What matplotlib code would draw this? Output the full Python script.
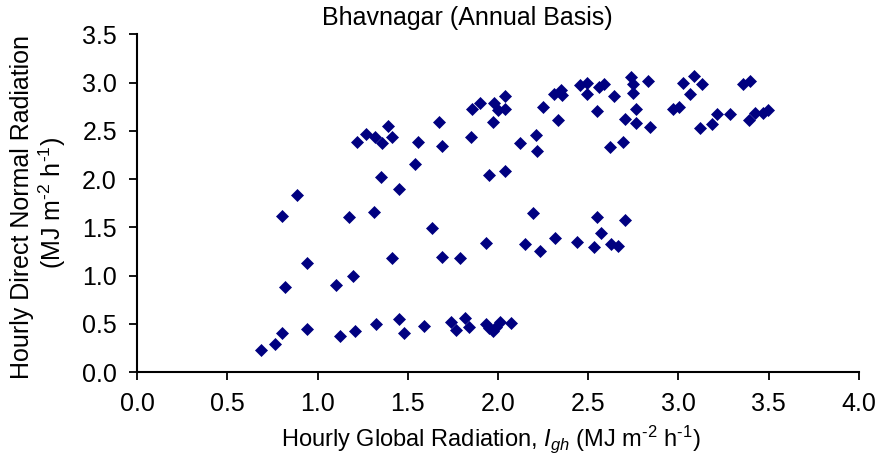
import matplotlib.pyplot as plt

plt.rcParams['font.family'] = ['Liberation Sans', 'DejaVu Sans']
plt.rcParams['mathtext.fontset'] = 'custom'
plt.rcParams['mathtext.rm'] = 'Liberation Sans'
plt.rcParams['mathtext.it'] = 'Liberation Sans:italic'

# hourly global radiation (x) and direct normal radiation (y), MJ m-2 h-1
igh = [1.221, 1.266, 1.317, 1.358, 1.391, 1.413, 1.557, 1.671, 1.692, 1.852,
       1.856, 1.898, 1.976, 2.000, 2.037, 2.037, 1.972, 2.120, 2.212, 2.218,
       2.249, 2.310, 2.350, 2.354, 2.332, 2.455, 2.492, 2.492, 2.562, 2.586,
       2.550, 2.645, 2.621, 2.691, 2.738, 2.747, 2.750, 2.830, 2.762, 2.701,
       2.765, 2.843, 2.968, 3.005, 3.027, 3.084, 3.131, 3.064, 3.121, 3.184,
       3.211, 3.285, 3.359, 3.396, 3.389, 3.426, 3.466, 3.494,
       1.538, 1.351, 1.452, 1.950, 2.037, 0.884, 0.804, 1.173, 1.313, 0.939,
       0.819, 1.100, 1.199, 1.415, 1.636, 1.692, 1.791, 1.935, 2.193, 2.147,
       2.230, 2.317, 2.437, 2.550, 2.572, 2.531, 2.627, 2.664, 2.704,
       0.686, 0.764, 0.804, 0.939, 1.123, 1.208, 1.326, 1.452, 1.478, 1.590,
       1.738, 1.769, 1.819, 1.839, 1.935, 1.972, 1.987, 2.009, 2.074, 1.950]
idn = [2.381, 2.464, 2.433, 2.377, 2.553, 2.433, 2.387, 2.588, 2.343, 2.433,
       2.723, 2.785, 2.791, 2.715, 2.860, 2.723, 2.594, 2.377, 2.457, 2.294,
       2.743, 2.881, 2.922, 2.870, 2.612, 2.974, 2.998, 2.881, 2.957, 2.984,
       2.708, 2.860, 2.335, 2.381, 3.060, 2.984, 2.894, 3.019, 2.723, 2.619,
       2.578, 2.542, 2.723, 2.743, 2.992, 3.070, 2.981, 2.881, 2.532, 2.567,
       2.671, 2.674, 2.984, 3.019, 2.612, 2.681, 2.681, 2.715,
       2.153, 2.019, 1.894, 2.042, 2.084, 1.840, 1.620, 1.605, 1.656, 1.135,
       0.880, 0.907, 0.994, 1.180, 1.490, 1.190, 1.180, 1.342, 1.646, 1.325,
       1.256, 1.393, 1.346, 1.605, 1.445, 1.294, 1.325, 1.307, 1.577,
       0.231, 0.293, 0.404, 0.445, 0.376, 0.431, 0.497, 0.552, 0.404, 0.479,
       0.524, 0.438, 0.565, 0.472, 0.497, 0.431, 0.472, 0.524, 0.507, 0.460]

xticks = [0.0, 0.5, 1.0, 1.5, 2.0, 2.5, 3.0, 3.5, 4.0]
yticks = [0.0, 0.5, 1.0, 1.5, 2.0, 2.5, 3.0, 3.5]

fig = plt.figure(figsize=(8.79, 4.70), dpi=100)
ax = fig.add_axes([0.1559, 0.2079, 0.8213, 0.7193])

ax.plot(igh, idn, 'D', color='#000080', markersize=6.6, markeredgewidth=0.5,
        clip_on=False)

ax.set_xlim(0, 4)
ax.set_ylim(0, 3.5)
ax.set_xticks(xticks)
ax.set_yticks(yticks)
ax.set_xticklabels(['%.1f' % v for v in xticks])
ax.set_yticklabels(['%.1f' % v for v in yticks])
ax.tick_params(direction='out', length=5.5, width=1.3, labelsize=18, pad=9,
               color='black')

for s in ['top', 'right']:
    ax.spines[s].set_visible(False)
for s in ['left', 'bottom']:
    ax.spines[s].set_linewidth(1.5)

units = '(MJ m$^{\\text{-2}}$ h$^{\\text{-1}}$)'

fig.text(467 / 879, 1 - 18 / 470, 'Bhavnagar (Annual Basis)', fontsize=18,
         ha='center', va='center')
fig.text(491 / 879, 1 - 439 / 470,
         'Hourly Global Radiation, $\\mathit{I_{gh}}$ ' + units,
         fontsize=17, ha='center', va='center')
fig.text(22 / 879, 1 - 207 / 470, 'Hourly Direct Normal Radiation',
         fontsize=18, rotation=90, ha='center', va='center')
fig.text(52 / 879, 1 - 203 / 470, units,
         fontsize=18, rotation=90, ha='center', va='center')

fig.savefig('out.png', dpi=100)
